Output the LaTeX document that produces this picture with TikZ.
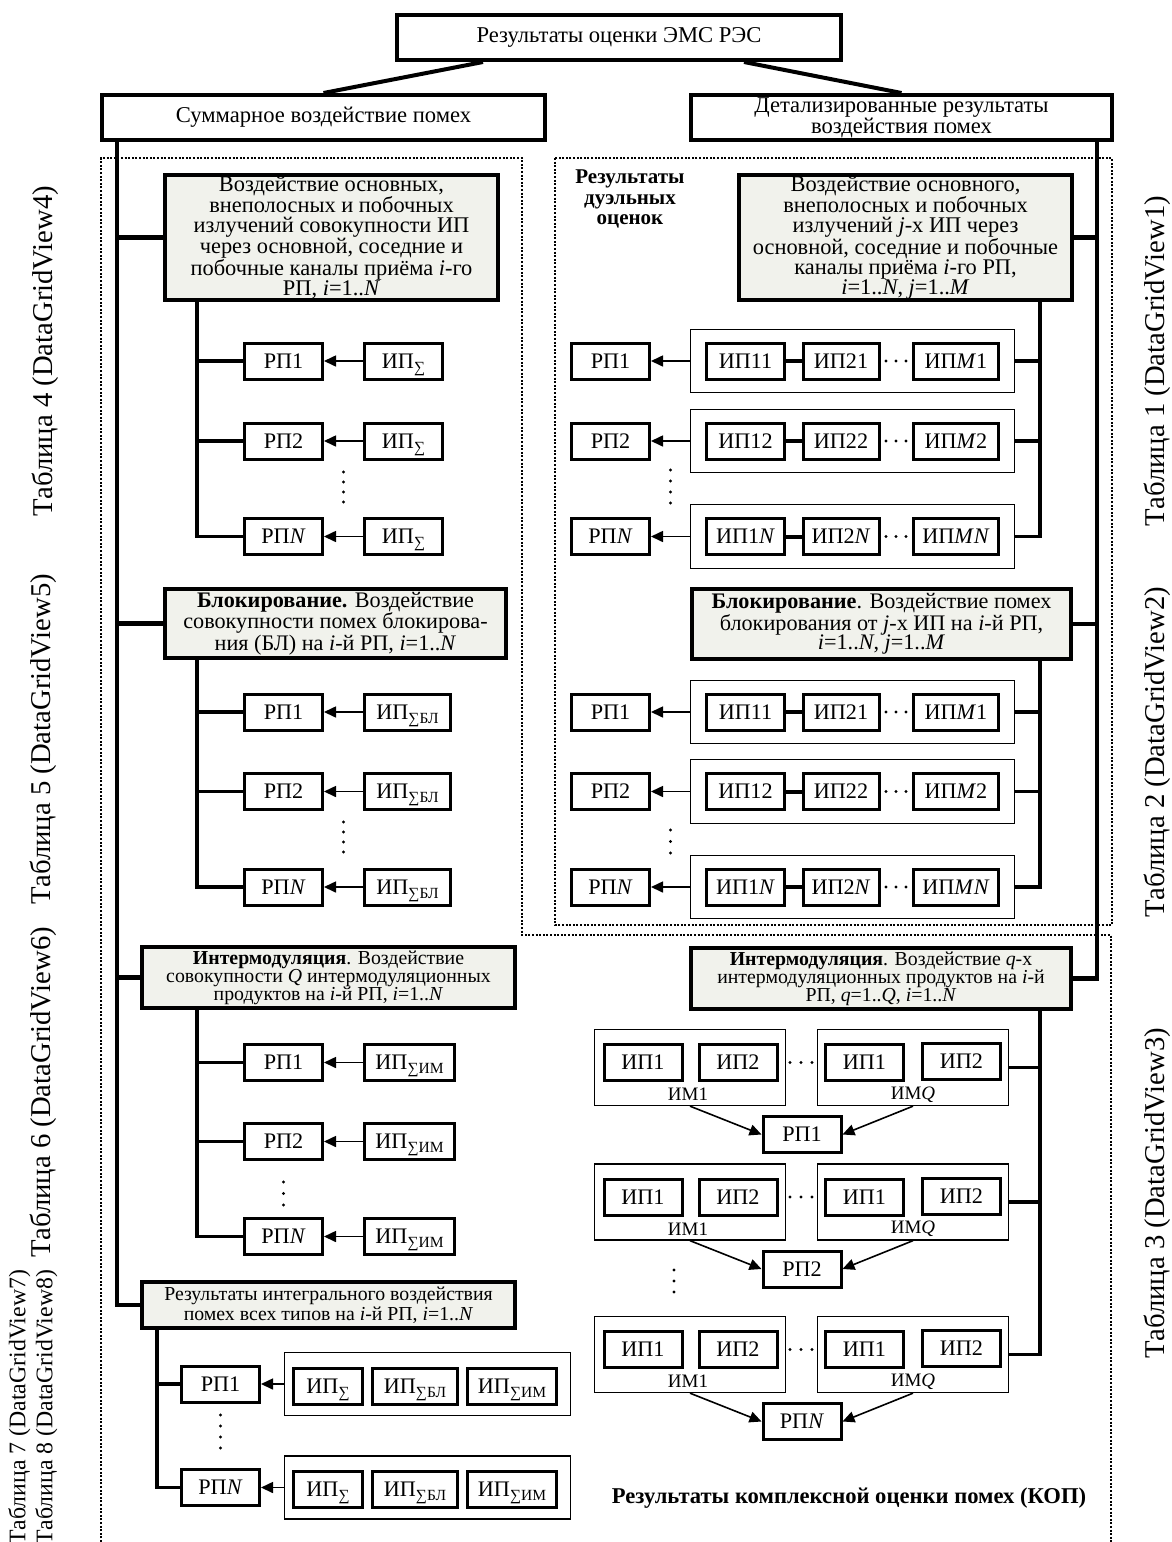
\documentclass[tikz,border=0pt]{standalone}
\usepackage{fontspec}
\setmainfont{Liberation Serif}
\usepackage{xcolor}
\definecolor{boxGray}{HTML}{F1F2EC}
\usepackage{tikz}
\usetikzlibrary{arrows.meta, positioning, fit}

\newcommand{\fsz}[2]{\fontsize{#1}{#2}\selectfont}
\newcommand{\ipsub}[1]{\raisebox{-4pt}[0pt][0pt]{\fsz{15.5}{15.5}#1}}

\begin{document}
\begin{tikzpicture}[
    x=1pt, y=-1pt,
    node distance=39pt,
    rootbox/.style={
        rectangle,
        draw,
        line width=4pt,
        fill=white,
        minimum height=45pt,
        inner sep=0pt,
        align=center,
        font=\fsz{22.6}{20}
    },
    effectbox/.style={
        rectangle,
        draw,
        line width=4pt,
        fill=boxGray,
        inner sep=0pt,
        align=center,
        font=\fsz{22.4}{19.8}
    },
    rpbox/.style={
        rectangle,
        draw,
        line width=3pt,
        fill=white,
        minimum width=78pt,
        minimum height=36pt,
        inner sep=0pt,
        font=\fsz{22.2}{22}
    },
    setframe/.style={rectangle, draw, line width=1.3pt, inner sep=0pt},
    imlabel/.style={inner sep=0pt, font=\fsz{19}{19}},
    busline/.style={line width=4.5pt},
    tapline/.style={line width=3.4pt},
    linkline/.style={line width=4pt},
    feedline/.style={line width=1.6pt, -{Triangle[length=12pt, width=11pt]}},
    dotframe/.style={line width=1.4pt, dash pattern=on 2pt off 1.6pt},
    tablabel/.style={rotate=90, inner sep=0pt, font=\fsz{28.7}{28.7}}
]

\useasboundingbox (0,0) rectangle (1171,1542);

\coordinate (lbus) at (117,0);
\coordinate (ltap) at (197,0);
\coordinate (ltapx) at (157,0);
\coordinate (rtap) at (1040,0);
\coordinate (rbus) at (1097,0);

\draw[dotframe] (555,158) rectangle (1112,925);
\draw[dotframe] (101,1542) -- (101,158) -- (522,158) -- (522,935) -- (1111,935) -- (1111,1542);

\node[rootbox, minimum width=444pt] (root) at (619,37.5) {Результаты оценки ЭМС РЭС};
\node[rootbox, minimum width=443pt] (lsum) at (323.5,117.5) {Суммарное воздействие помех};
\node[rootbox, minimum width=421pt] (rsum) at (901.5,117.5) {Детализированные результаты\\воздействия помех};

\draw[linkline] ([xshift=-136pt]root.south) -- (lsum.north);
\draw[linkline] ([xshift=125pt]root.south) -- (rsum.north);

\node[effectbox, minimum width=333pt, minimum height=125pt] (lmain) at (331.5,237.5)
    {Воздействие основных,\\внеполосных и побочных\\излучений совокупности ИП\\через основной, соседние и\\побочные каналы приёма \textit{i}-го\\РП, \textit{i}=1..\textit{N}};
\node[effectbox, minimum width=333pt, minimum height=125pt] (rmain) at (905.5,237.5)
    {Воздействие основного,\\внеполосных и побочных\\излучений \textit{j}-х ИП через\\основной, соседние и побочные\\каналы приёма \textit{i}-го РП,\\\textit{i}=1..\textit{N}, \textit{j}=1..\textit{M}};
\node[effectbox, minimum width=341pt, minimum height=69pt, font=\fsz{22.2}{19.5}] (lblock) at (335.5,623.5)
    {\textbf{Блокирование.} Воздействие\\совокупности помех блокирова-\\ния (БЛ) на \textit{i}-й РП, \textit{i}=1..\textit{N}};
\node[effectbox, minimum width=379pt, minimum height=70pt, font=\fsz{22.2}{19.5}] (rblock) at (881.5,624)
    {\textbf{Блокирование}. Воздействие помех\\блокирования от \textit{j}-х ИП на \textit{i}-й РП,\\\textit{i}=1..\textit{N}, \textit{j}=1..\textit{M}};
\node[effectbox, minimum width=373pt, minimum height=61pt, font=\fsz{19.8}{18}] (limd) at (328.5,977.5)
    {\textbf{Интермодуляция}. Воздействие\\совокупности \textit{Q} интермодуляционных\\продуктов на \textit{i}-й РП, \textit{i}=1..\textit{N}};
\node[effectbox, minimum width=380pt, minimum height=61pt, font=\fsz{19.8}{18}] (rimd) at (881,978.5)
    {\textbf{Интермодуляция}. Воздействие \textit{q}-х\\интермодуляционных продуктов на \textit{i}-й\\РП, \textit{q}=1..\textit{Q}, \textit{i}=1..\textit{N}};
\node[effectbox, minimum width=373pt, minimum height=46pt, font=\fsz{19.8}{20}] (ltotal) at (328.5,1305)
    {Результаты интегрального воздействия\\помех всех типов на \textit{i}-й РП, \textit{i}=1..\textit{N}};

\draw[busline] (lsum.south -| lbus) |- (ltotal);
\draw[busline] (lbus |- lmain) -- (lmain);
\draw[busline] (lbus |- lblock) -- (lblock);
\draw[busline] (lbus |- limd) -- (limd);
\draw[busline] (rsum.south -| rbus) |- (rimd);
\draw[busline] (rbus |- rmain) -- (rmain);
\draw[busline] (rbus |- rblock) -- (rblock);

\foreach \blk/\ya/\yb/\yc/\kind/\boxw/\head in {1/361/441/536.5/{}/78/lmain, 2/712/791.5/887/БЛ/86/lblock, 3/1062.5/1141.5/1236.5/ИМ/90/limd}{
    \foreach \row/\y/\idx in {1/\ya/1, 2/\yb/2, 3/\yc/\textit{N}}{
        \node[rpbox] (lrp-\blk-\row) at (283.5,\y) {РП\idx};
        \node[rpbox, minimum width=\boxw pt, right=of lrp-\blk-\row] (lip-\blk-\row) {ИП\ipsub{∑\kind}};
        \draw[feedline] (lip-\blk-\row) -- (lrp-\blk-\row);
        \draw[tapline] (ltap |- lrp-\blk-\row) -- (lrp-\blk-\row);
    }
    \draw[tapline] (\head.south -| ltap) |- (lrp-\blk-3);
}

\foreach \row/\y/\idx in {1/1384/1, 3/1487.5/\textit{N}}{
    \node[rpbox] (lrp-4-\row) at (220.5,\y) {РП\idx};
    \node[setframe, minimum width=286pt, minimum height=63pt] (lset-\row) at (427.5,\y) {};
    \node[rpbox, minimum width=69pt] (lset-\row-a) at (328,\y+2) {ИП\ipsub{∑}};
    \node[rpbox, minimum width=85pt, right=7pt of lset-\row-a] (lset-\row-b) {ИП\ipsub{∑БЛ}};
    \node[rpbox, minimum width=89pt, right=7pt of lset-\row-b] (lset-\row-c) {ИП\ipsub{∑ИМ}};
    \draw[feedline] (lset-\row) -- (lrp-4-\row);
    \draw[tapline] (ltapx |- lrp-4-\row) -- (lrp-4-\row);
}
\draw[tapline] (ltotal.south -| ltapx) |- (lrp-4-3);

\foreach \blk/\ya/\yb/\yc/\head in {1/361/441/536.5/rmain, 2/712/791.5/887/rblock}{
    \foreach \row/\y/\idx in {1/\ya/1, 2/\yb/2, 3/\yc/\textit{N}}{
        \node[rpbox] (rrp-\blk-\row) at (610.5,\y) {РП\idx};
        \node[rpbox] (rip-\blk-\row-a) at (745.5,\y) {ИП1\idx};
        \node[rpbox, minimum width=76pt] (rip-\blk-\row-b) at (841,\y) {ИП2\idx};
        \node[rpbox, minimum width=85pt] (rip-\blk-\row-c) at (956,\y) {ИП\textit{M}\idx};
        \node[setframe, fit=(rip-\blk-\row-a)(rip-\blk-\row-c), inner xsep=14.8pt, inner ysep=12.3pt] (rset-\blk-\row) {};
        \draw[linkline] (rip-\blk-\row-a) -- (rip-\blk-\row-b);
        \draw[feedline] (rset-\blk-\row) -- (rrp-\blk-\row);
        \draw[tapline] (rset-\blk-\row) -- (rtap |- rset-\blk-\row);
        \foreach \x in {886,896,906} \fill (\x,\y) circle (1.6pt);
    }
    \draw[tapline] (\head.south -| rtap) |- (rset-\blk-3);
}

\foreach \row/\y/\idx in {1/1067.5/1, 2/1202/2, 3/1354.5/\textit{N}}{
    \node[setframe, minimum width=191pt, minimum height=76pt] (im-\row-a) at (690,\y) {};
    \node[setframe, minimum width=191pt, minimum height=76pt] (im-\row-q) at (913,\y) {};
    \node[rpbox] (imip-\row-a1) at (643,\y-5) {ИП1};
    \node[rpbox] (imip-\row-a2) at (738,\y-5) {ИП2};
    \node[rpbox] (imip-\row-q1) at (864.5,\y-5) {ИП1};
    \node[rpbox] (imip-\row-q2) at (961.5,\y-6) {ИП2};
    \node[imlabel] (imlab-\row-a) at (688,\y+27) {ИМ1};
    \node[imlabel] (imlab-\row-q) at (913,\y+27) {ИМ\textit{Q}};
    \node[rpbox] (rrp-3-\row) at (802,\y+67) {РП\idx};
    \draw[feedline] (im-\row-a.south) -- (rrp-3-\row.west);
    \draw[feedline] (im-\row-q.south) -- (rrp-3-\row.east);
    \draw[tapline] (im-\row-q) -- (rtap |- im-\row-q);
    \foreach \x in {790,801,812} \fill (\x,\y-5) circle (1.6pt);
}
\draw[tapline] (rimd.south -| rtap) |- (im-3-q);

\foreach \x/\y in {343.5/472, 343.5/482, 343.5/492, 343.5/502,
                   343.5/822, 343.5/832, 343.5/842, 343.5/852,
                   283.5/1182, 283.5/1193.5, 283.5/1205,
                   220.5/1415, 220.5/1426, 220.5/1437, 220.5/1448,
                   670.5/470, 670.5/481, 670.5/492, 670.5/503,
                   670.5/830, 670.5/841.5, 670.5/853,
                   674/1270, 674/1281, 674/1292}
    \fill (\x,\y) circle (1.7pt);

\node[font=\bfseries\fsz{21}{20.5}, align=center] (duel) at (630,199) {Результаты\\дуэльных\\оценок};
\node[font=\bfseries\fsz{22.6}{20}] (kop) at (849,1498) {Результаты комплексной оценки помех (КОП)};

\node[tablabel] (tab4) at (45,351) {Таблица 4 (DataGridView4)};
\node[tablabel] (tab5) at (43,739) {Таблица 5 (DataGridView5)};
\node[tablabel] (tab6) at (43,1092) {Таблица 6 (DataGridView6)};
\node[tablabel, font=\fsz{23.8}{27}, align=left] (tab78) at (33,1407) {Таблица 7 (DataGridView7)\\Таблица 8 (DataGridView8)};
\node[tablabel] (tab1) at (1157,361) {Таблица 1 (DataGridView1)};
\node[tablabel] (tab2) at (1157,752) {Таблица 2 (DataGridView2)};
\node[tablabel] (tab3) at (1157,1193) {Таблица 3 (DataGridView3)};
\end{tikzpicture}
\end{document}
